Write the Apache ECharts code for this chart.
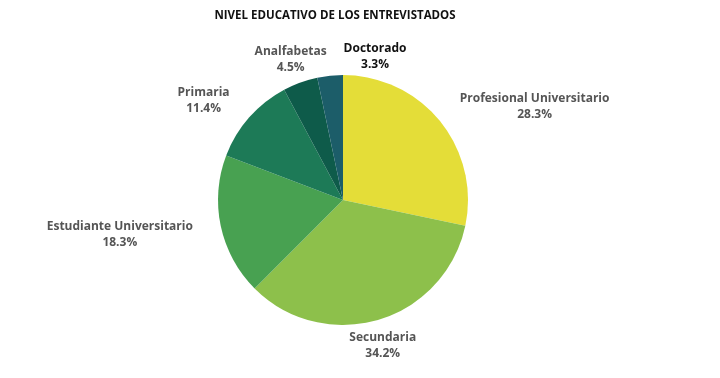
<!DOCTYPE html>
<html><head><meta charset="utf-8">
<script src="https://cdn.jsdelivr.net/npm/echarts@6/dist/echarts.min.js"></script>
<style>html,body{margin:0;padding:0;background:#fff}#c{width:720px;height:378px}</style>
</head><body><div id="c"></div>
<script>
const categories = ['Profesional Universitario','Secundaria','Estudiante Universitario','Primaria','Analfabetas','Doctorado'];
const values = [28.3, 34.2, 18.3, 11.4, 4.5, 3.3];
const colors = ['#e4dd38','#8dc04b','#48a151','#1d7a57','#0e5b4a','#1c5d69'];
const labelColors = ['#555','#555','#555','#555','#555','#111'];
const labelShift = [[10,-11],[-36,20],[-22,7],[2,-37],[73,-44],[82,-13]];

const chart = echarts.init(document.getElementById('c'));
chart.setOption({
  animation:false,
  title:{text:'NIVEL EDUCATIVO DE LOS ENTREVISTADOS',left:330,top:5,textAlign:'center',
    textStyle:{fontFamily:'Open Sans',fontWeight:'bold',fontSize:11.5,color:'#111'}},
  series:[{
    type:'pie', center:[343,200], radius:125, startAngle:90, clockwise:true,
    label:{show:true, position:'outside', formatter:'{b}\n{c}%', fontFamily:'Open Sans', fontWeight:'bold',
      fontSize:12, lineHeight:16},
    labelLine:{show:false, length:6, length2:0},
    labelLayout:function(p){ const s=labelShift[p.dataIndex]; const r=p.labelRect;
      return {x:r.x + r.width/2 + s[0], y:r.y + r.height/2 + s[1], align:'center', verticalAlign:'middle'}; },
    data: categories.map((n,i)=>({name:n, value:values[i], itemStyle:{color:colors[i]}, label:{color:labelColors[i]}}))
  }]
});
</script></body></html>
